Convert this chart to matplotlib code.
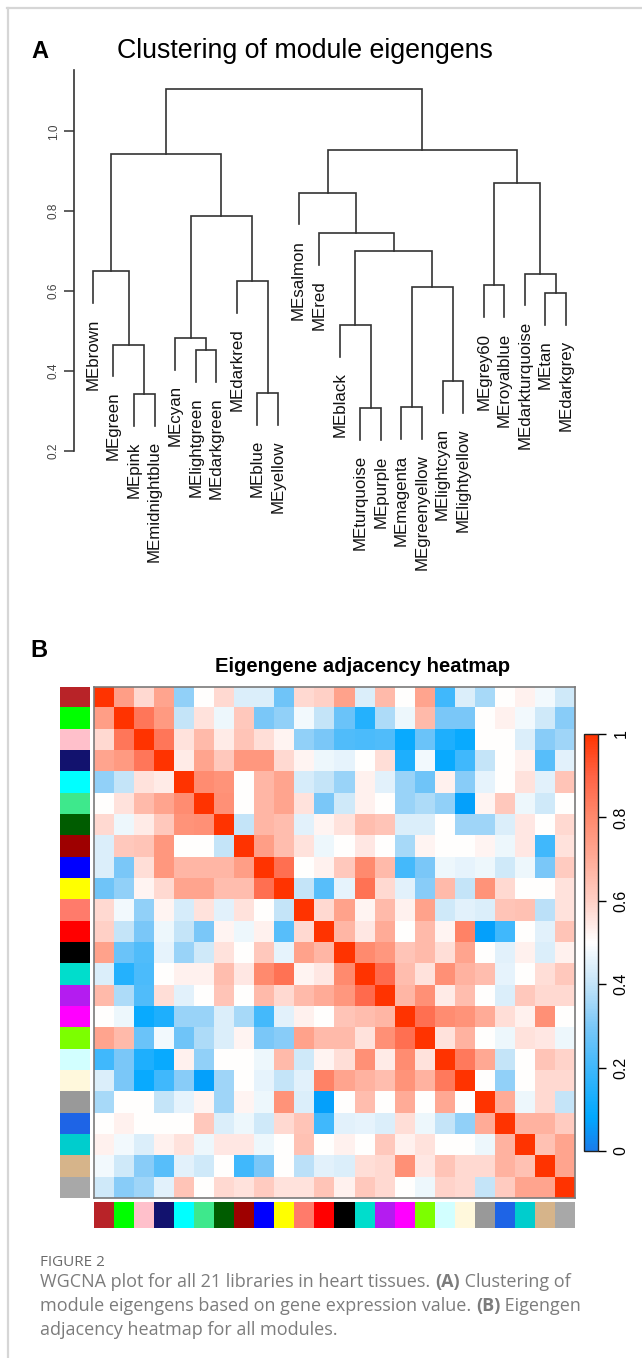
import numpy as np
import matplotlib.pyplot as plt
from matplotlib.colors import LinearSegmentedColormap, ListedColormap

W, H, DPI = 642, 1358, 100

# modules in dendrogram / heatmap order
modules = ["brown", "green", "pink", "midnightblue", "cyan", "lightgreen",
           "darkgreen", "darkred", "blue", "yellow", "salmon", "red", "black",
           "turquoise", "purple", "magenta", "greenyellow", "lightcyan",
           "lightyellow", "grey60", "royalblue", "darkturquoise", "tan", "darkgrey"]
module_colors = ["#B82328", "#00FF00", "#FFC0CB", "#12126E", "#00FFFF", "#3EE88C",
                 "#005C00", "#9E0000", "#0000FF", "#FFFF00", "#FF7B6B", "#FF0000",
                 "#000000", "#00DDCC", "#B41CF0", "#FF00FF", "#7CFF00", "#D2FFFF",
                 "#FFF8DC", "#999999", "#1E64E6", "#00CDCD", "#D6B48A", "#A8A8A8"]

# dendrogram merges: (child a, child b) -> new node id 24, 25, ...
merge_pairs = [(2, 3), (1, 24), (0, 25), (5, 6), (4, 27), (8, 9), (7, 29),
               (28, 30), (26, 31), (13, 14), (12, 33), (15, 16), (17, 18),
               (35, 36), (34, 37), (11, 38), (10, 39), (19, 20), (22, 23),
               (21, 42), (41, 43), (40, 44), (32, 45)]
merge_heights = [0.342, 0.466, 0.650, 0.452, 0.482, 0.345, 0.625,
                 0.787, 0.943, 0.307, 0.515, 0.309, 0.375,
                 0.611, 0.700, 0.746, 0.847, 0.614, 0.596,
                 0.644, 0.871, 0.954, 1.107]
hang = 0.08

# eigengene adjacency, upper triangle (row i, columns i+1 ..)
adj_upper = [
    [0.74, 0.58, 0.72, 0.33, 0.50, 0.58, 0.44, 0.44, 0.28, 0.58, 0.60,
     0.73, 0.44, 0.66, 0.50, 0.72, 0.20, 0.44, 0.36, 0.50, 0.53, 0.48, 0.42],
    [0.85, 0.75, 0.40, 0.56, 0.47, 0.62, 0.30, 0.33, 0.48, 0.40,
     0.27, 0.15, 0.37, 0.47, 0.66, 0.30, 0.30, 0.50, 0.53, 0.48, 0.42, 0.32],
    [0.85, 0.56, 0.66, 0.54, 0.63, 0.57, 0.52, 0.33, 0.30,
     0.23, 0.22, 0.23, 0.10, 0.27, 0.14, 0.10, 0.50, 0.50, 0.44, 0.32, 0.35],
    [0.54, 0.72, 0.62, 0.76, 0.76, 0.58, 0.52, 0.47,
     0.46, 0.50, 0.57, 0.14, 0.48, 0.10, 0.20, 0.40, 0.50, 0.53, 0.24, 0.45],
    [0.79, 0.77, 0.50, 0.67, 0.72, 0.43, 0.40,
     0.34, 0.53, 0.45, 0.34, 0.28, 0.53, 0.32, 0.46, 0.50, 0.56, 0.45, 0.63],
    [0.78, 0.50, 0.67, 0.72, 0.56, 0.30,
     0.42, 0.53, 0.50, 0.34, 0.37, 0.33, 0.07, 0.52, 0.62, 0.47, 0.42, 0.50],
    [0.40, 0.67, 0.65, 0.45, 0.52,
     0.56, 0.65, 0.63, 0.44, 0.44, 0.50, 0.35, 0.35, 0.44, 0.55, 0.50, 0.58],
    [0.74, 0.65, 0.56, 0.47,
     0.50, 0.55, 0.50, 0.36, 0.52, 0.50, 0.50, 0.52, 0.47, 0.55, 0.20, 0.56],
    [0.87, 0.50, 0.53,
     0.62, 0.80, 0.66, 0.21, 0.30, 0.47, 0.46, 0.47, 0.42, 0.47, 0.30, 0.61],
    [0.40, 0.24,
     0.46, 0.86, 0.58, 0.45, 0.32, 0.66, 0.40, 0.77, 0.58, 0.50, 0.50, 0.56],
    [0.58,
     0.73, 0.52, 0.66, 0.53, 0.73, 0.42, 0.45, 0.44, 0.63, 0.64, 0.39, 0.56],
    [0.67, 0.55, 0.70, 0.50, 0.66, 0.52, 0.82, 0.07, 0.20, 0.50, 0.45, 0.63],
    [0.80, 0.76, 0.63, 0.66, 0.57, 0.72, 0.50, 0.45, 0.53, 0.44, 0.53],
    [0.88, 0.65, 0.56, 0.78, 0.68, 0.65, 0.46, 0.50, 0.57, 0.62],
    [0.67, 0.78, 0.54, 0.65, 0.50, 0.44, 0.62, 0.58, 0.58],
    [0.87, 0.79, 0.77, 0.70, 0.57, 0.53, 0.78, 0.50],
    [0.56, 0.68, 0.50, 0.47, 0.56, 0.55, 0.47],
    [0.84, 0.71, 0.40, 0.50, 0.63, 0.59],
    [0.50, 0.33, 0.50, 0.58, 0.58],
    [0.70, 0.47, 0.58, 0.40],
    [0.68, 0.68, 0.61],
    [0.64, 0.72],
    [0.72],
]

n = len(modules)
adj = np.eye(n)
for i, row in enumerate(adj_upper):
    for k, v in enumerate(row):
        adj[i, i + 1 + k] = v
        adj[i + 1 + k, i] = v

cmap = LinearSegmentedColormap.from_list("bwr_wgcna", [
    (0.00, "#1A7CEA"), (0.08, "#00A8FF"), (0.20, "#40B8FC"), (0.30, "#7CC8F8"),
    (0.40, "#C4E4F8"), (0.50, "#FFFFFF"), (0.60, "#FFD0C6"), (0.70, "#FFAC98"),
    (0.80, "#FF8A6E"), (0.90, "#FF6446"), (1.00, "#FF3300")])

fig = plt.figure(figsize=(W / DPI, H / DPI), dpi=DPI)
fig.patch.set_facecolor("white")


def px_axes(x0, y0, x1, y1):
    return fig.add_axes([x0 / W, 1 - y1 / H, (x1 - x0) / W, (y1 - y0) / H])


def ftext(x, y, s, **kw):
    return fig.text(x / W, 1 - y / H, s, **kw)


# outer frame (top and left edges)
fig.add_artist(plt.Line2D([7 / W, 1], [1 - 7.5 / H, 1 - 7.5 / H], color="#D6D6D6", lw=1.6))
fig.add_artist(plt.Line2D([7.5 / W, 7.5 / W], [0, 1 - 7.5 / H], color="#D6D6D6", lw=1.6))

# ---------------- A: dendrogram ----------------
ftext(40, 52, "A", fontsize=17, fontweight="bold", ha="center", va="center",
      family="Liberation Sans")
ftext(117, 51, "Clustering of module eigengens", fontsize=19.3, ha="left",
      va="center", family="Liberation Sans")

dax = px_axes(73.7, 70, 600, 450.7)
x0_px, step_px = 92.9, 20.57
dax.set_xlim((73.7 - x0_px) / step_px, (600 - x0_px) / step_px)
dax.set_ylim(0.2, 1.154)

node_x = list(range(n))
node_h = [None] * n
leaf_end = [None] * n
for (a, b), h in zip(merge_pairs, merge_heights):
    xa, xb = node_x[a], node_x[b]
    ya = node_h[a] if a >= n else h - hang
    yb = node_h[b] if b >= n else h - hang
    if a < n:
        leaf_end[a] = ya
    if b < n:
        leaf_end[b] = yb
    dax.plot([xa, xa, xb, xb], [ya, h, h, yb], color="#333333", lw=1.2,
             solid_joinstyle="miter", clip_on=False)
    node_x.append((xa + xb) / 2)
    node_h.append(h)

for i, m in enumerate(modules):
    dax.annotate("ME" + m, (i, leaf_end[i]), xytext=(0, -11),
                 textcoords="offset points", rotation=90, ha="center", va="top",
                 fontsize=12.2, family="Liberation Sans", color="#111111",
                 annotation_clip=False)

for s in ["top", "right", "bottom"]:
    dax.spines[s].set_visible(False)
dax.spines["left"].set_color("#333333")
dax.spines["left"].set_linewidth(1.2)
dax.set_xticks([])
dax.set_yticks([0.2, 0.4, 0.6, 0.8, 1.0])
dax.set_yticklabels(["0.2", "0.4", "0.6", "0.8", "1.0"], rotation=90,
                    va="center", fontsize=8.5, color="#444444",
                    family="Liberation Sans")
dax.tick_params(axis="y", length=7, width=1.1, color="#333333", pad=3)
dax.patch.set_alpha(0)

# ---------------- B: heatmap ----------------
ftext(39, 650, "B", fontsize=17, fontweight="bold", ha="center", va="center",
      family="Liberation Sans")
ftext(363, 666, "Eigengene adjacency heatmap", fontsize=14.6,
      fontweight="bold", ha="center", va="center", family="Liberation Sans")

hax = px_axes(94.3, 686.7, 575, 1198)
im = hax.imshow(adj, cmap=cmap, vmin=0, vmax=1, aspect="auto",
                interpolation="nearest")
hax.set_xticks([])
hax.set_yticks([])
for s in hax.spines.values():
    s.set_color("#7A7A7A")
    s.set_linewidth(1.2)

mod_cmap = ListedColormap(module_colors)
rax = px_axes(60, 686.7, 90, 1198)
rax.imshow(np.arange(n)[:, None], cmap=mod_cmap, vmin=-0.5, vmax=n - 0.5,
           aspect="auto", interpolation="nearest")
rax.axis("off")

bax = px_axes(94.3, 1202, 575, 1228)
bax.imshow(np.arange(n)[None, :], cmap=mod_cmap, vmin=-0.5, vmax=n - 0.5,
           aspect="auto", interpolation="nearest")
bax.axis("off")

cax = px_axes(584, 734, 598, 1151)
cb = fig.colorbar(im, cax=cax, ticks=[0, 0.2, 0.4, 0.6, 0.8, 1.0])
cb.ax.set_yticklabels(["0", "0.2", "0.4", "0.6", "0.8", "1"], rotation=90,
                      va="center", fontsize=11.5, family="Liberation Sans")
cb.ax.tick_params(length=6, width=1, pad=5)
cb.outline.set_linewidth(1)
cb.outline.set_edgecolor("#222222")

# ---------------- caption ----------------
cap_color = "#7C7C7C"
ftext(40, 1263, "FIGURE 2", fontsize=11, color="#6A6A6A", ha="left",
      va="center", family="Open Sans")

caption_lines = [
    [("WGCNA plot for all 21 libraries in heart tissues. ", "normal"),
     ("(A)", "bold"), (" Clustering of", "normal")],
    [("module eigengens based on gene expression value. ", "normal"),
     ("(B)", "bold"), (" Eigengen", "normal")],
    [("adjacency heatmap for all modules.", "normal")],
]
caption_y = [1282, 1306, 1330]

fig.canvas.draw()
renderer = fig.canvas.get_renderer()
for line, y in zip(caption_lines, caption_y):
    x = 40
    for txt, wt in line:
        t = ftext(x, y, txt, fontsize=13, color=cap_color, ha="left",
                  va="center", fontweight=wt, family="Open Sans")
        bb = t.get_window_extent(renderer=renderer)
        x += bb.width

fig.savefig("out.png", dpi=DPI)
